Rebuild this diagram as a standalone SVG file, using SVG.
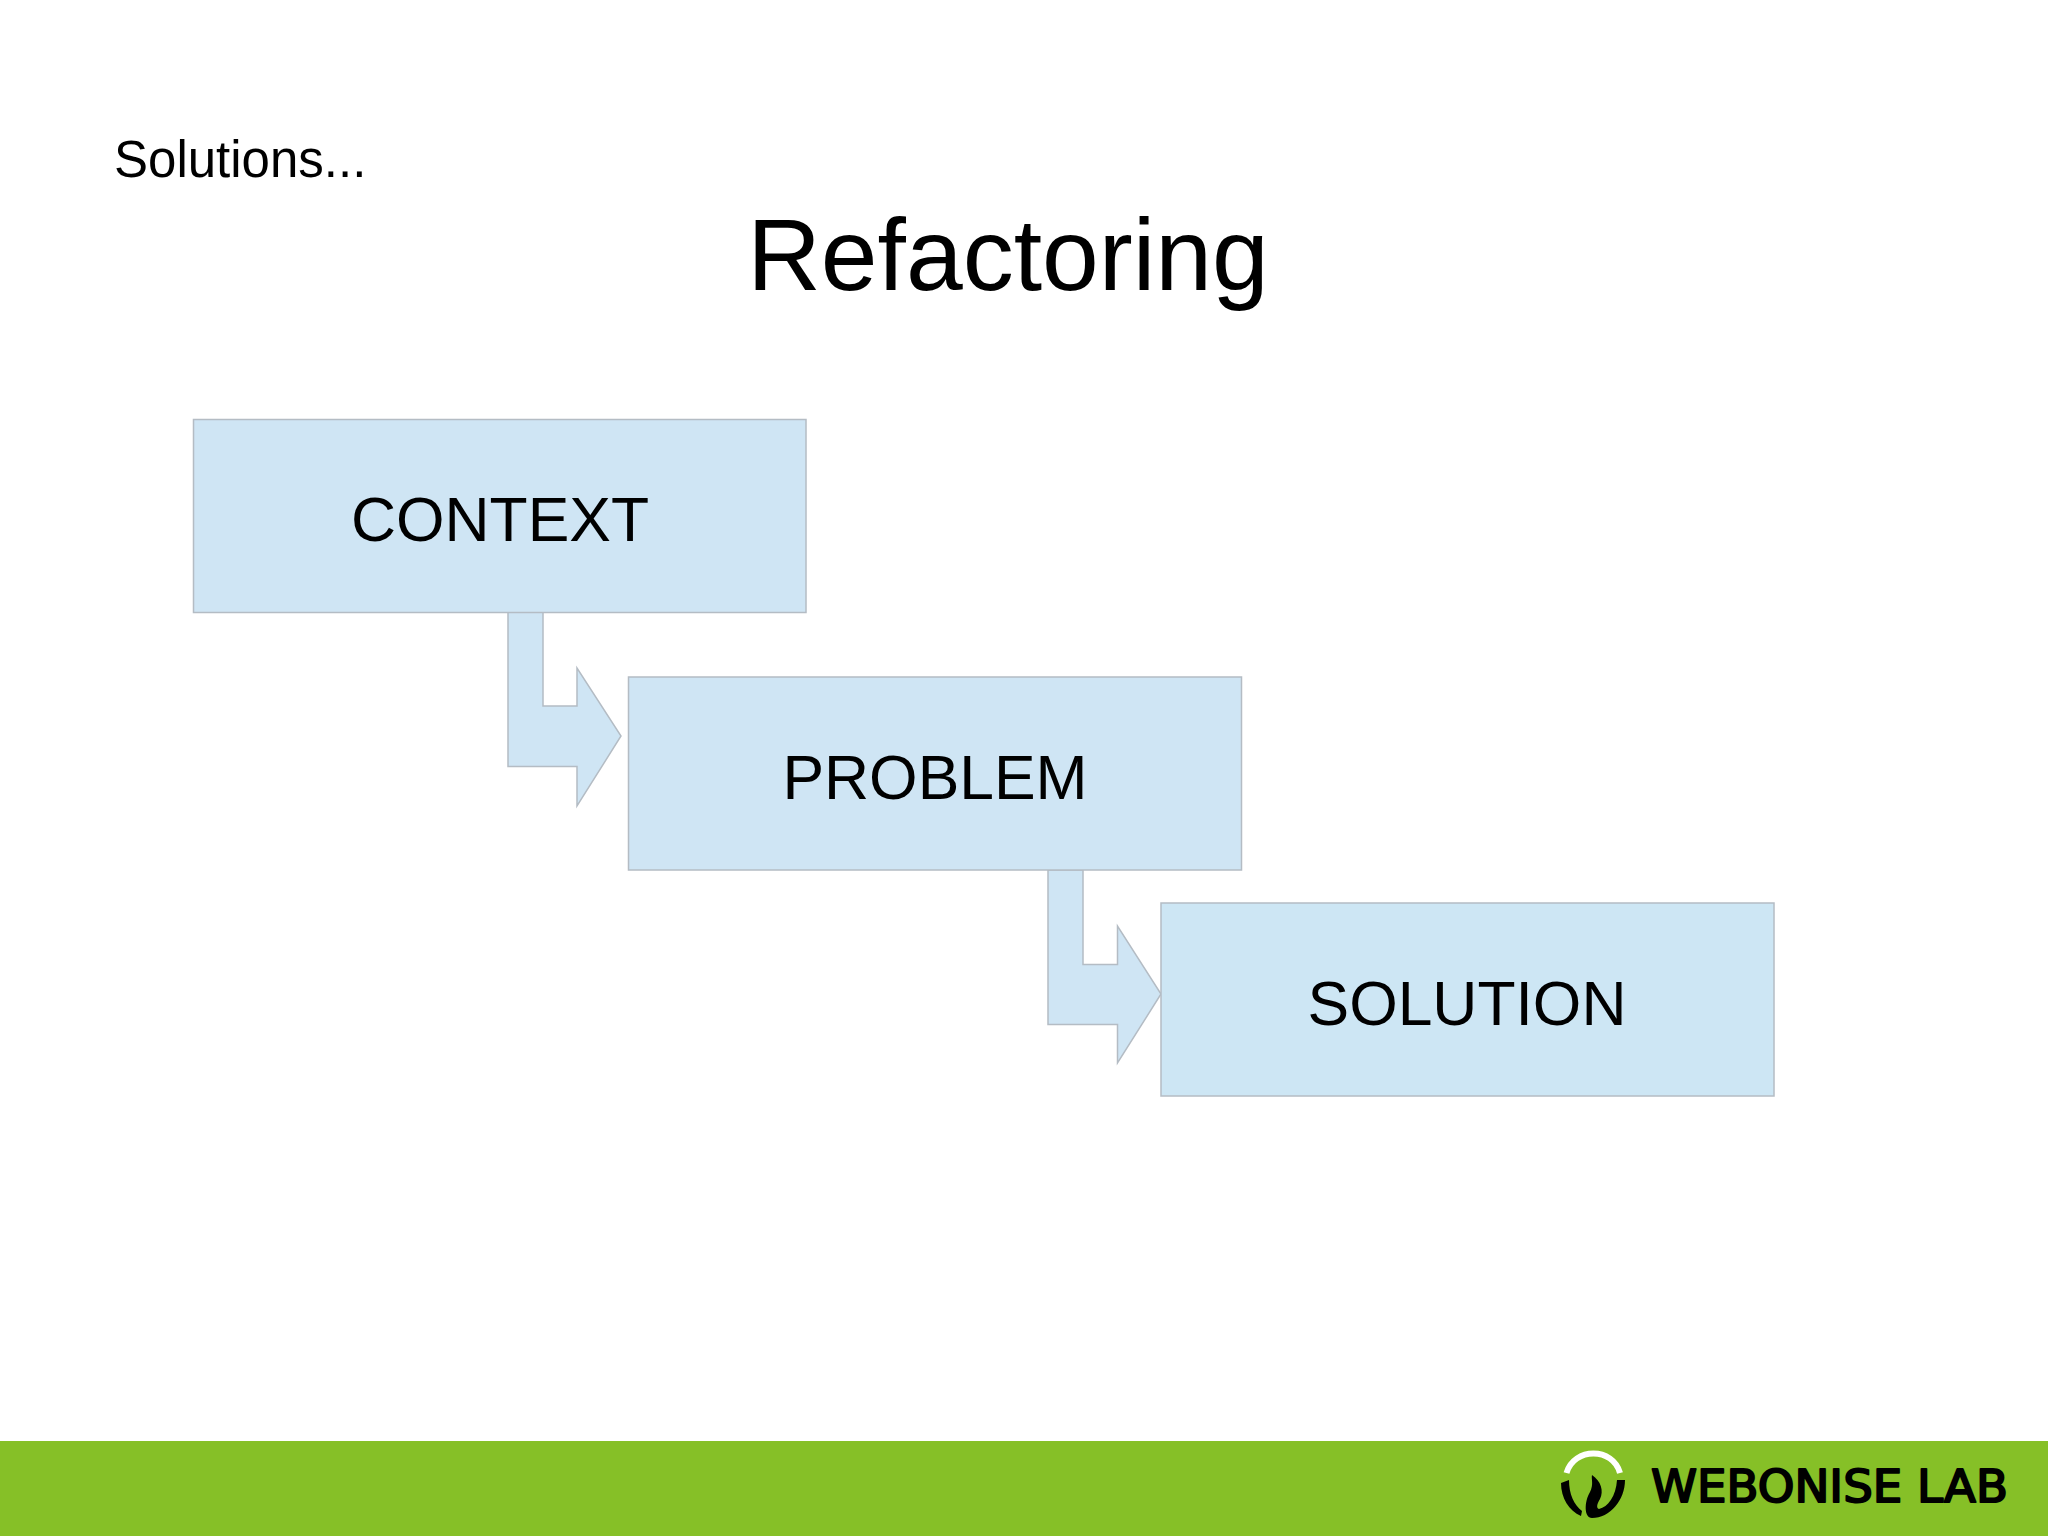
<svg xmlns="http://www.w3.org/2000/svg" width="2048" height="1536" viewBox="0 0 2048 1536">
<style>
text{font-family:"Liberation Sans",Arial,sans-serif;fill:#000}
.box{stroke:#b4bcc4;stroke-width:1.5}
.arr{fill:#cfe5f4;stroke:#b4bcc4;stroke-width:1.5;stroke-linejoin:miter}
.lbl{font-size:62.400px;text-anchor:middle}
</style>
<rect width="2048" height="1536" fill="#fff"/>
<text id="kicker" x="114" y="177" font-size="51">Solutions...</text>
<text id="title" x="1008" y="290" font-size="102" text-anchor="middle">Refactoring</text>
<g id="connectors">
<path class="arr" d="M508 612H543V706H577V668L621 736L577 806V766.500H508Z"/>
<path class="arr" d="M1048 870H1083V964.500H1117.500V926L1161 994L1117.500 1063V1024.500H1048Z"/>
</g>
<g id="context"><rect class="box" x="193.500" y="419.500" width="612.500" height="193" fill="#cfe5f4"/><text class="lbl" x="500" y="540.500">CONTEXT</text></g>
<g id="problem"><rect class="box" x="628.500" y="677" width="613" height="193" fill="#cfe5f4"/><text class="lbl" x="935" y="798.500">PROBLEM</text></g>
<g id="solution"><rect class="box" x="1161" y="903" width="613" height="193" fill="#cde6f4"/><text class="lbl" x="1467" y="1024.500">SOLUTION</text></g>
<g id="footer">
<rect x="0" y="1441" width="2048" height="95" fill="#86c027"/>
<path d="M1566.500 1473C1574 1447 1613 1447 1620 1473" fill="none" stroke="#fff" stroke-width="6"/>
<path d="M1561 1483C1561 1498 1569 1511 1581 1516L1582 1511C1574 1505 1569 1494 1569 1480Z" fill="#000"/>
<path d="M1625 1480C1625 1500 1610 1518 1592 1518C1584 1518 1584 1502 1590 1492C1594 1484 1591 1479 1592 1475C1601 1481 1604 1491 1600 1499C1597 1504 1596 1508 1599 1509C1608 1507 1616 1496 1617 1480Z" fill="#000"/>
<text id="logo" x="1651" y="1501.500" font-size="45" stroke="#000" stroke-width="2" stroke-linejoin="round" style="font-family:'DejaVu Sans',sans-serif" textLength="357" lengthAdjust="spacingAndGlyphs">WEBONISE LAB</text>
</g>
</svg>
